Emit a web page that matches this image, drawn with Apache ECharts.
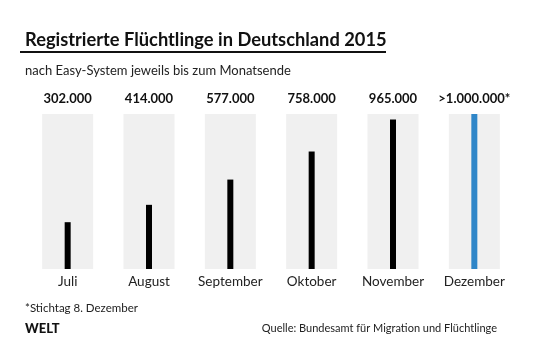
<!DOCTYPE html>
<html><head><meta charset="utf-8">
<script src="https://cdn.jsdelivr.net/npm/echarts@6/dist/echarts.min.js"></script>
<style>html,body{margin:0;padding:0;background:#fff}#c{width:540px;height:360px}</style>
</head><body><div id="c"></div>
<script>
var months = ['Juli', 'August', 'September', 'Oktober', 'November', 'Dezember'];
var values = [302000, 414000, 577000, 758000, 965000, 1000000];
var valueLabels = ['302.000', '414.000', '577.000', '758.000', '965.000', '>1.000.000*'];
var axisMax = 1000000;
var FONT = 'Lato';

var chart = echarts.init(document.getElementById('c'), null, {renderer: 'canvas'});
chart.setOption({
  animation: false,
  backgroundColor: '#fff',
  textStyle: {fontFamily: FONT},
  title: [
    {text: 'Registrierte Flüchtlinge in Deutschland 2015', left: 20, top: 26,
     textStyle: {fontFamily: FONT, fontSize: 18.3, fontWeight: 'bold', color: '#111'}},
    {text: 'nach Easy-System jeweils bis zum Monatsende', left: 20, top: 59,
     textStyle: {fontFamily: FONT, fontSize: 13, fontWeight: 'normal', color: '#222'}},
    {text: '*Stichtag 8. Dezember', left: 20, top: 297,
     textStyle: {fontFamily: FONT, fontSize: 11.5, fontWeight: 'normal', color: '#222'}},
    {text: 'WELT', left: 20, top: 317,
     textStyle: {fontFamily: FONT, fontSize: 13, fontWeight: 900, color: '#111'}},
    {text: 'Quelle: Bundesamt für Migration und Flüchtlinge', right: 38, top: 318,
     textStyle: {fontFamily: FONT, fontSize: 11, fontWeight: 'normal', color: '#222'}}
  ],
  graphic: [
    {type: 'rect', shape: {x: 20, y: 51, width: 366, height: 2}, style: {fill: '#111'}}
  ],
  grid: {left: 27, right: 25, top: 114, bottom: 91},
  xAxis: [
    {type: 'category', data: months, position: 'bottom',
     axisLine: {show: false}, axisTick: {show: false},
     axisLabel: {interval: 0, fontFamily: FONT, fontSize: 13.5, color: '#222', margin: 6}},
    {type: 'category', data: valueLabels, position: 'top',
     axisLine: {show: false}, axisTick: {show: false},
     axisLabel: {interval: 0, fontFamily: FONT, fontSize: 13, fontWeight: 'bold', color: '#111', margin: 9}}
  ],
  yAxis: {type: 'value', min: 0, max: axisMax, show: false},
  series: [
    {type: 'bar', xAxisIndex: 0, barWidth: 51, silent: true,
     itemStyle: {color: '#f0f0f0'},
     data: months.map(function () { return axisMax; })},
    {type: 'bar', xAxisIndex: 1, barWidth: 6, z: 3,
     data: values.map(function (v, i) {
       return {value: v, itemStyle: {color: i === values.length - 1 ? '#2f86c8' : '#000'}};
     })}
  ]
});
</script></body></html>
